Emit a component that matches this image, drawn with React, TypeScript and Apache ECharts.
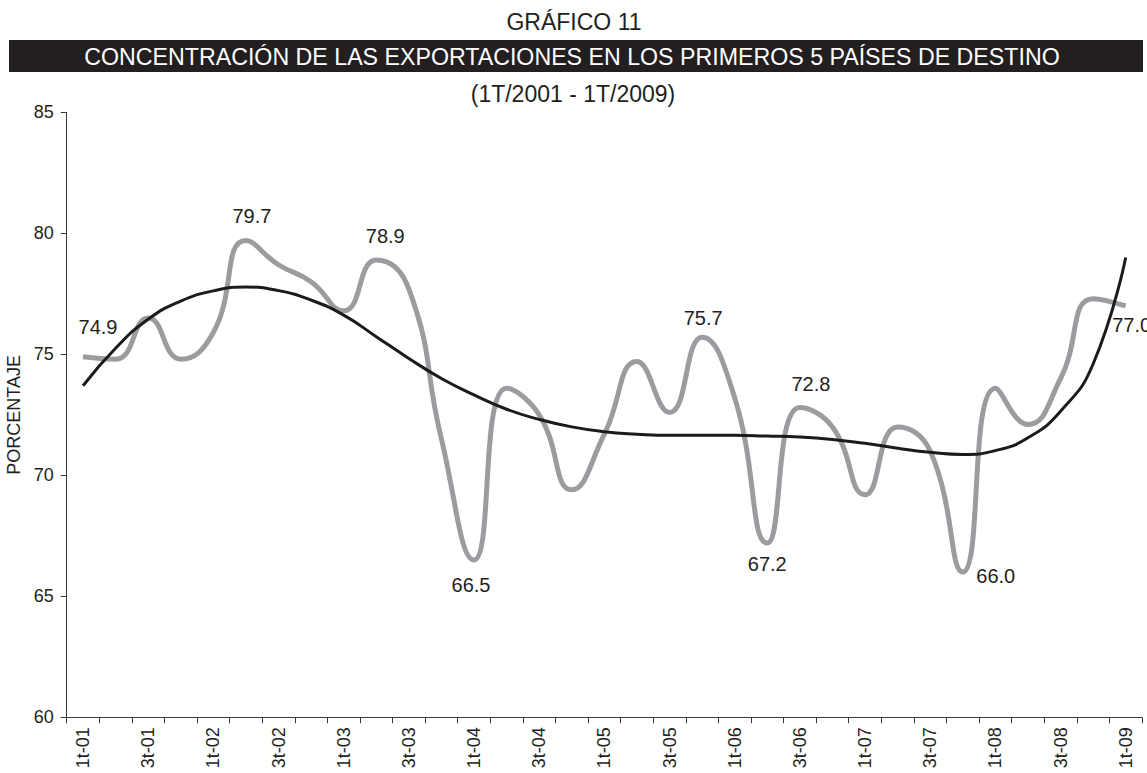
import React, { useEffect, useRef } from "react";
import * as echarts from "echarts";

const categories = [
  "1t-01", "2t-01", "3t-01", "4t-01",
  "1t-02", "2t-02", "3t-02", "4t-02",
  "1t-03", "2t-03", "3t-03", "4t-03",
  "1t-04", "2t-04", "3t-04", "4t-04",
  "1t-05", "2t-05", "3t-05", "4t-05",
  "1t-06", "2t-06", "3t-06", "4t-06",
  "1t-07", "2t-07", "3t-07", "4t-07",
  "1t-08", "2t-08", "3t-08", "4t-08",
  "1t-09",
];

const concentration = [
  74.9, 74.8, 76.5, 74.8,
  75.9, 79.7, 78.7, 78.0,
  76.8, 78.9, 77.7, 71.5,
  66.5, 73.6, 72.5, 69.4,
  71.7, 74.7, 72.6, 75.7,
  73.2, 67.2, 72.8, 72.0,
  69.2, 72.0, 71.0, 66.0,
  73.6, 72.1, 74.0, 77.3,
  77.0,
];

const trend = [
  73.7, 75.25, 76.45, 77.2,
  77.62, 77.78, 77.63, 77.24,
  76.62, 75.73, 74.83, 74.0,
  73.32, 72.73, 72.31, 72.0,
  71.8, 71.7, 71.65, 71.65,
  71.65, 71.62, 71.58, 71.48,
  71.32, 71.12, 70.95, 70.86,
  71.02, 71.55, 72.65, 74.6,
  79.0,
];

const labelledIndices = [0, 5, 9, 12, 19, 21, 22, 27, 32];

const yTicks = { min: 60, max: 85, interval: 5 };

const titleText = "GRÁFICO 11";
const bannerText = "CONCENTRACIÓN DE LAS EXPORTACIONES EN LOS PRIMEROS 5 PAÍSES DE DESTINO";
const subtitleText = "(1T/2001 - 1T/2009)";
const yName = "PORCENTAJE";

const FONT = "'Liberation Sans', Arial, Helvetica, sans-serif";
const TEXT = "#231f20";

export default function App() {
  const ref = useRef<HTMLDivElement>(null);

  useEffect(() => {
    if (!ref.current) return;
    const chart = echarts.init(ref.current, null, { renderer: "svg" });

    const placement: Record<number, { pos: string; off: [number, number] }> = {
      0: { pos: "top", off: [15, -14] },
      5: { pos: "top", off: [6, -9] },
      9: { pos: "top", off: [9, -8] },
      12: { pos: "bottom", off: [-3, 9] },
      19: { pos: "top", off: [1, -4] },
      21: { pos: "bottom", off: [0, 5] },
      22: { pos: "top", off: [11, -8] },
      27: { pos: "right", off: [8, 4] },
      32: { pos: "bottom", off: [6, 4] },
    };

    const grayData = concentration.map((v, i) => {
      if (labelledIndices.indexOf(i) >= 0) {
        const p = placement[i];
        return {
          value: v,
          label: {
            show: true,
            position: p.pos,
            offset: p.off,
            distance: 5,
            formatter: () => v.toFixed(1),
            color: TEXT,
            fontSize: 20,
            fontFamily: FONT,
          },
        };
      }
      return v;
    });

    chart.setOption({
      animation: false,
      backgroundColor: "#ffffff",
      graphic: [
        {
          type: "text",
          style: {
            text: titleText,
            x: 574,
            y: 22,
            textAlign: "center",
            textVerticalAlign: "middle",
            fill: TEXT,
            fontSize: 23,
            fontFamily: FONT,
          },
        },
        {
          type: "rect",
          shape: { x: 9, y: 40, width: 1134, height: 32 },
          style: { fill: "#231f20" },
        },
        {
          type: "text",
          style: {
            text: bannerText,
            x: 572,
            y: 57,
            textAlign: "center",
            textVerticalAlign: "middle",
            fill: "#ffffff",
            fontSize: 23.2,
            fontFamily: FONT,
          },
        },
        {
          type: "text",
          style: {
            text: subtitleText,
            x: 573,
            y: 94,
            textAlign: "center",
            textVerticalAlign: "middle",
            fill: TEXT,
            fontSize: 23,
            fontFamily: FONT,
          },
        },
      ],
      grid: {
        left: 66.7,
        right: 5,
        top: 112.3,
        bottom: 55.7,
        containLabel: false,
        outerBoundsMode: "none",
      },
      xAxis: {
        type: "category",
        data: categories,
        boundaryGap: true,
        axisLine: { show: true, lineStyle: { color: "#3a3a3a", width: 1 } },
        axisTick: {
          show: true,
          interval: 0,
          length: 6,
          inside: false,
          lineStyle: { color: "#3a3a3a", width: 1 },
        },
        axisLabel: {
          interval: 1,
          rotate: 90,
          margin: 10,
          color: TEXT,
          fontSize: 18,
          fontFamily: FONT,
        },
        splitLine: { show: false },
      },
      yAxis: {
        type: "value",
        min: yTicks.min,
        max: yTicks.max,
        interval: yTicks.interval,
        name: yName,
        nameLocation: "middle",
        nameGap: 44,
        nameRotate: 90,
        nameTextStyle: { color: TEXT, fontSize: 18, fontFamily: FONT },
        axisLine: { show: true, lineStyle: { color: "#3a3a3a", width: 1 } },
        axisTick: {
          show: true,
          length: 6,
          inside: false,
          lineStyle: { color: "#3a3a3a", width: 1 },
        },
        axisLabel: {
          margin: 13,
          color: TEXT,
          fontSize: 18,
          fontFamily: FONT,
        },
        splitLine: { show: false },
      },
      series: [
        {
          name: "Concentración",
          type: "line",
          data: grayData,
          smooth: 0.5,
          symbol: "circle",
          symbolSize: 1,
          showSymbol: true,
          showAllSymbol: true,
          itemStyle: { color: "rgba(0,0,0,0)" },
          lineStyle: { color: "#9b9c9f", width: 5 },
          z: 2,
        },
        {
          name: "Tendencia",
          type: "line",
          data: trend,
          smooth: 0.5,
          symbol: "none",
          lineStyle: { color: "#1d1a1b", width: 3 },
          z: 3,
        },
      ],
    });

    return () => chart.dispose();
  }, []);

  return (
    <div
      ref={ref}
      style={{ position: "absolute", left: 0, top: 0, width: 1147, height: 773 }}
    />
  );
}
